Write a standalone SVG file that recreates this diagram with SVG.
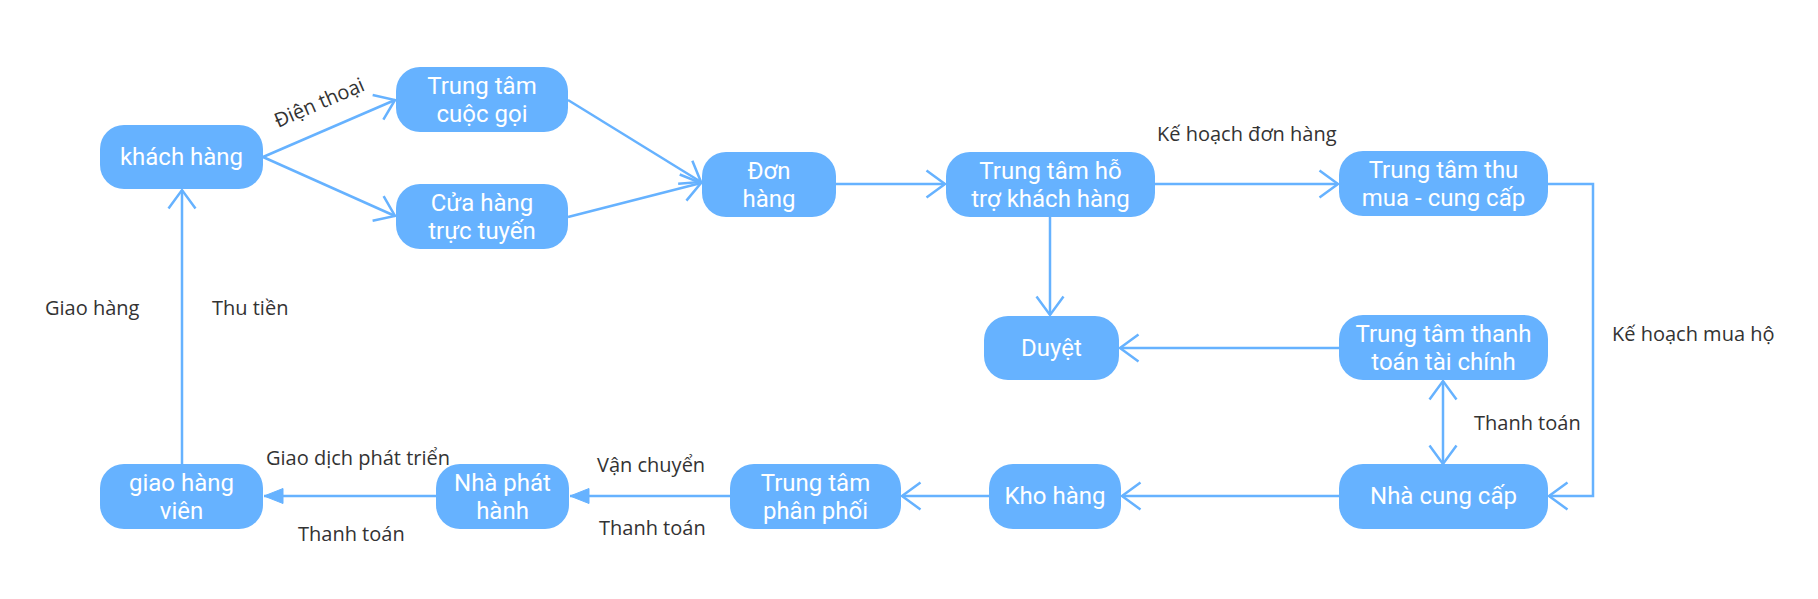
<svg xmlns="http://www.w3.org/2000/svg" width="1818" height="599" viewBox="0 0 1818 599">
<style>
.node rect{fill:#66b2ff;}
.node text{fill:#ffffff;font-family:Roboto,"Open Sans",sans-serif;font-size:24px;text-anchor:middle;}
.edge{fill:none;stroke:#66b2ff;stroke-width:2.5;}
.lbl{fill:#333333;font-family:"Open Sans","Noto Sans",sans-serif;font-size:20px;}
</style>
<defs>
<marker id="open" markerUnits="userSpaceOnUse" viewBox="-22 -16 24 32" refX="0" refY="0" markerWidth="24" markerHeight="32" orient="auto-start-reverse" overflow="visible">
<path d="M-18.5,-13.5 L0,0 L-18.5,13.5" fill="none" stroke="#66b2ff" stroke-width="2.5"/>
</marker>
<marker id="fill" markerUnits="userSpaceOnUse" viewBox="-22 -10 24 20" refX="0" refY="0" markerWidth="24" markerHeight="20" orient="auto" overflow="visible">
<path d="M-19,-7.5 L0,0 L-19,7.5 Z" fill="#66b2ff" stroke="#66b2ff" stroke-width="1"/>
</marker>
</defs>
<rect width="1818" height="599" fill="#ffffff"/>
<g id="connectors">
<path class="edge" d="M263,157 L395,100" marker-end="url(#open)"/>
<path class="edge" d="M263,157 L395,216" marker-end="url(#open)"/>
<path class="edge" d="M568,100 L701,182" marker-end="url(#open)"/>
<path class="edge" d="M568,217 L701,183" marker-end="url(#open)"/>
<path class="edge" d="M836,184 L945,184" marker-end="url(#open)"/>
<path class="edge" d="M1155,184 L1338,184" marker-end="url(#open)"/>
<path class="edge" d="M1050,217 L1050,315" marker-end="url(#open)"/>
<path class="edge" d="M1548,184 L1593,184 L1593,496 L1549,496" marker-end="url(#open)"/>
<path class="edge" d="M1443,381 L1443,464" marker-start="url(#open)" marker-end="url(#open)"/>
<path class="edge" d="M1339,348 L1120,348" marker-end="url(#open)"/>
<path class="edge" d="M1339,496 L1122,496" marker-end="url(#open)"/>
<path class="edge" d="M989,496 L902,496" marker-end="url(#open)"/>
<path class="edge" d="M730,496 L570,496" marker-end="url(#fill)"/>
<path class="edge" d="M436,496 L264,496" marker-end="url(#fill)"/>
<path class="edge" d="M182,464 L182,190" marker-end="url(#open)"/>
<text class="lbl" x="322" y="109" text-anchor="middle" transform="rotate(-23.4 322 109)">Điện thoại</text>
<text class="lbl" x="1157" y="141">Kế hoạch đơn hàng</text>
<text class="lbl" x="1612" y="341">Kế hoạch mua hộ</text>
<text class="lbl" x="1474" y="430">Thanh toán</text>
<text class="lbl" x="597" y="472">Vận chuyển</text>
<text class="lbl" x="599" y="535">Thanh toán</text>
<text class="lbl" x="266" y="465">Giao dịch phát triển</text>
<text class="lbl" x="298" y="541">Thanh toán</text>
<text class="lbl" x="45" y="315">Giao hàng</text>
<text class="lbl" x="212" y="315">Thu tiền</text>
</g>
<g id="n1" class="node"><rect x="100" y="125" width="163" height="64" rx="24"/><text x="181.5" y="165">khách hàng</text></g>
<g id="n2" class="node"><rect x="396" y="67" width="172" height="65" rx="24"/><text><tspan x="482" y="93.5">Trung tâm</tspan><tspan x="482" dy="28.5">cuộc gọi</tspan></text></g>
<g id="n3" class="node"><rect x="396" y="184" width="172" height="65" rx="24"/><text><tspan x="482" y="210.5">Cửa hàng</tspan><tspan x="482" dy="28.5">trực tuyến</tspan></text></g>
<g id="n4" class="node"><rect x="702" y="152" width="134" height="65" rx="24"/><text><tspan x="769" y="178.5">Đơn</tspan><tspan x="769" dy="28.5">hàng</tspan></text></g>
<g id="n5" class="node"><rect x="946" y="152" width="209" height="65" rx="24"/><text><tspan x="1050.5" y="178.5">Trung tâm hỗ</tspan><tspan x="1050.5" dy="28.5">trợ khách hàng</tspan></text></g>
<g id="n6" class="node"><rect x="1339" y="151" width="209" height="65" rx="24"/><text><tspan x="1443.5" y="177.5">Trung tâm thu</tspan><tspan x="1443.5" dy="28.5">mua - cung cấp</tspan></text></g>
<g id="n7" class="node"><rect x="984" y="316" width="135" height="64" rx="24"/><text x="1051.5" y="356">Duyệt</text></g>
<g id="n8" class="node"><rect x="1339" y="315" width="209" height="65" rx="24"/><text><tspan x="1443.5" y="341.5">Trung tâm thanh</tspan><tspan x="1443.5" dy="28.5">toán tài chính</tspan></text></g>
<g id="n9" class="node"><rect x="1339" y="464" width="209" height="65" rx="24"/><text x="1443.5" y="504">Nhà cung cấp</text></g>
<g id="n10" class="node"><rect x="989" y="464" width="132" height="65" rx="24"/><text x="1055" y="504">Kho hàng</text></g>
<g id="n11" class="node"><rect x="730" y="464" width="171" height="65" rx="24"/><text><tspan x="815.5" y="490.5">Trung tâm</tspan><tspan x="815.5" dy="28.5">phân phối</tspan></text></g>
<g id="n12" class="node"><rect x="436" y="464" width="133" height="65" rx="24"/><text><tspan x="502.5" y="490.5">Nhà phát</tspan><tspan x="502.5" dy="28.5">hành</tspan></text></g>
<g id="n13" class="node"><rect x="100" y="464" width="163" height="65" rx="24"/><text><tspan x="181.5" y="490.5">giao hàng</tspan><tspan x="181.5" dy="28.5">viên</tspan></text></g>
</svg>
